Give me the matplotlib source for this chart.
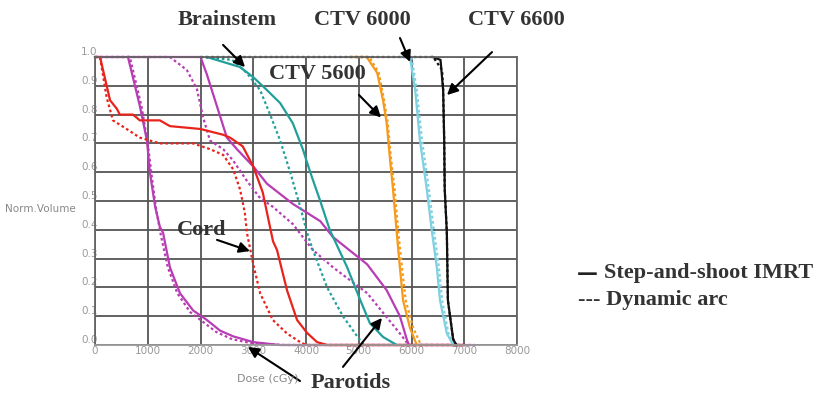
import matplotlib
matplotlib.use("Agg")
import matplotlib.pyplot as plt

# ---- data (dose in cGy, normalized volume) ----
cord_solid_dose = [0, 95, 285, 415, 470, 720, 850, 1230, 1420, 2000, 2430, 2560, 2800, 3000, 3180, 3260, 3375, 3450, 3640, 3830, 4020, 4210, 4400, 7000]
cord_solid_vol = [1.0, 1.0, 0.85, 0.82, 0.80, 0.80, 0.78, 0.78, 0.76, 0.75, 0.73, 0.72, 0.69, 0.62, 0.53, 0.46, 0.36, 0.33, 0.19, 0.087, 0.042, 0.01, 0.0, 0.0]
cord_dash_dose = [0, 95, 220, 340, 600, 850, 1230, 1860, 2180, 2430, 2620, 2750, 2840, 2880, 3000, 3130, 3370, 3640, 3890, 4000, 7000]
cord_dash_vol = [1.0, 1.0, 0.86, 0.78, 0.75, 0.72, 0.70, 0.70, 0.68, 0.66, 0.61, 0.54, 0.46, 0.39, 0.28, 0.18, 0.087, 0.04, 0.01, 0.0, 0.0]

par1_solid_dose = [625, 850, 985, 1040, 1140, 1230, 1290, 1420, 1610, 1860, 2120, 2370, 2620, 3000, 3500, 7000]
par1_solid_vol = [1.0, 0.83, 0.71, 0.60, 0.48, 0.41, 0.39, 0.27, 0.18, 0.12, 0.087, 0.05, 0.03, 0.01, 0.0, 0.0]
par1_dash_dose = [0, 660, 880, 1000, 1080, 1160, 1250, 1380, 1560, 1800, 2050, 2300, 2600, 3000, 3600, 7200]
par1_dash_vol = [1.0, 1.0, 0.83, 0.70, 0.58, 0.47, 0.38, 0.27, 0.18, 0.115, 0.08, 0.045, 0.02, 0.005, 0.0, 0.0]

par2_solid_dose = [0, 1370, 2000, 2120, 2310, 2500, 2690, 3000, 3260, 3750, 4270, 4510, 5160, 5530, 5780, 5910, 5950]
par2_solid_vol = [1.0, 1.0, 1.0, 0.94, 0.83, 0.72, 0.68, 0.62, 0.56, 0.49, 0.43, 0.375, 0.28, 0.19, 0.10, 0.02, 0.0]
par2_dash_dose = [0, 1420, 1740, 1930, 2050, 2180, 2430, 2620, 2880, 3130, 3370, 3750, 4130, 4510, 5160, 5780, 5950, 7200]
par2_dash_vol = [1.0, 1.0, 0.955, 0.89, 0.79, 0.71, 0.68, 0.64, 0.57, 0.51, 0.48, 0.42, 0.33, 0.27, 0.18, 0.04, 0.0, 0.0]

brain_solid_dose = [2120, 2750, 3000, 3260, 3510, 3750, 3940, 4080, 4270, 4450, 4780, 5020, 5210, 5460, 5720]
brain_solid_vol = [1.0, 0.965, 0.93, 0.885, 0.84, 0.77, 0.68, 0.60, 0.50, 0.40, 0.27, 0.16, 0.076, 0.028, 0.0]
brain_dash_dose = [2000, 2600, 2880, 3130, 3320, 3510, 3700, 3890, 4020, 4130, 4400, 4700, 4970, 5100]
brain_dash_vol = [1.0, 0.99, 0.944, 0.885, 0.80, 0.71, 0.60, 0.48, 0.39, 0.33, 0.20, 0.10, 0.03, 0.0]

ctv56_solid_dose = [4830, 5150, 5350, 5460, 5530, 5590, 5650, 5720, 5780, 5840, 5970, 6100]
ctv56_solid_vol = [1.0, 1.0, 0.945, 0.85, 0.77, 0.65, 0.54, 0.39, 0.27, 0.155, 0.06, 0.0]
ctv56_dash_dose = [4830, 5200, 5380, 5480, 5550, 5610, 5680, 5750, 5820, 5890, 6030, 6180]
ctv56_dash_vol = [1.0, 1.0, 0.945, 0.85, 0.77, 0.65, 0.54, 0.39, 0.27, 0.155, 0.06, 0.0]

ctv60_solid_dose = [5800, 5970, 6070, 6160, 6290, 6390, 6480, 6540, 6670, 6790]
ctv60_solid_vol = [1.0, 1.0, 0.885, 0.71, 0.54, 0.39, 0.27, 0.155, 0.04, 0.0]
ctv60_dash_dose = [5800, 6000, 6100, 6200, 6330, 6430, 6520, 6580, 6700, 6820]
ctv60_dash_vol = [1.0, 1.0, 0.885, 0.71, 0.54, 0.39, 0.27, 0.155, 0.04, 0.0]

ctv66_solid_dose = [6400, 6550, 6600, 6620, 6630, 6670, 6690, 6790, 6850]
ctv66_solid_vol = [1.0, 0.99, 0.885, 0.71, 0.54, 0.39, 0.155, 0.02, 0.0]
ctv66_dash_dose = [2000, 6410, 6580, 6600, 6620, 6630, 6670, 6690, 6790, 6850]
ctv66_dash_vol = [1.0, 1.0, 0.955, 0.885, 0.71, 0.54, 0.39, 0.155, 0.02, 0.0]

x_ticks = [0, 1000, 2000, 3000, 4000, 5000, 6000, 7000, 8000]
y_ticks = [0.0, 0.1, 0.2, 0.3, 0.4, 0.5, 0.6, 0.7, 0.8, 0.9, 1.0]

RED = "#e8231c"
MAG = "#b83cb4"
TEAL = "#21a09b"
ORANGE = "#f59a1c"
CYAN = "#7fd0e0"
BLACK = "#111111"

fig = plt.figure(figsize=(8.19, 3.96), dpi=100)
ax = fig.add_axes([95 / 819, 1 - 345 / 396, (517 - 95) / 819, (345 - 57) / 396])

ax.set_xlim(0, 8000)
ax.set_ylim(0, 1.0)
ax.set_xticks(x_ticks)
ax.set_yticks(y_ticks)
ax.set_xticklabels([str(t) for t in x_ticks])
ax.set_yticklabels([f"{t:.1f}" for t in y_ticks])
ax.grid(True, color="#555555", lw=1.3)
ax.set_axisbelow(True)
for s in ax.spines.values():
    s.set_color("#666666")
    s.set_linewidth(1.3)
ax.spines["bottom"].set_color("#999999")
ax.tick_params(length=0, labelsize=7.5, labelcolor="#999999")
ax.tick_params(axis="y", pad=-2)
ax.tick_params(axis="x", pad=1)
for lab in ax.get_yticklabels():
    lab.set_verticalalignment("bottom")

dash = (0, (1.2, 1.2))
lw = 1.6
curves = [
    (par1_dash_dose, par1_dash_vol, MAG, dash),
    (par2_dash_dose, par2_dash_vol, MAG, dash),
    (par1_solid_dose, par1_solid_vol, MAG, "-"),
    (par2_solid_dose, par2_solid_vol, MAG, "-"),
    (cord_dash_dose, cord_dash_vol, RED, dash),
    (cord_solid_dose, cord_solid_vol, RED, "-"),
    (brain_dash_dose, brain_dash_vol, TEAL, dash),
    (brain_solid_dose, brain_solid_vol, TEAL, "-"),
    (ctv56_solid_dose, ctv56_solid_vol, ORANGE, "-"),
    (ctv56_dash_dose, ctv56_dash_vol, ORANGE, dash),
    (ctv60_solid_dose, ctv60_solid_vol, CYAN, "-"),
    (ctv60_dash_dose, ctv60_dash_vol, CYAN, dash),
    (ctv66_solid_dose, ctv66_solid_vol, BLACK, "-"),
    (ctv66_dash_dose, ctv66_dash_vol, BLACK, dash),
]
for d, v, c, ls in curves:
    ax.plot(d, v, color=c, ls=ls, lw=lw, clip_on=False)

fig.text(40 / 819, 1 - 209 / 396, "Norm.Volume", fontsize=7.5, color="#888888", ha="center", va="center")
fig.text(268 / 819, 1 - 379 / 396, "Dose (cGy)", fontsize=8, color="#888888", ha="center", va="center")

tfont = dict(family="Liberation Serif", fontsize=16, fontweight="bold", color="#333333", ha="center", va="center")
aprops = dict(arrowstyle="-|>", color="black", lw=1.5, mutation_scale=16, shrinkA=0, shrinkB=0)

ax.text(2502, 1.13, "Brainstem", **tfont)
ax.text(5062, 1.13, "CTV 6000", **tfont)
ax.text(7981, 1.13, "CTV 6600", **tfont)
ax.text(4209, 0.94, "CTV 5600", **tfont)
ax.text(2030, 0.40, "Cord", **tfont)
ax.text(4840, -0.132, "Parotids", **tfont)

arrows = [
    ((2427, 1.042), (2844, 0.965)),
    ((5782, 1.066), (5972, 0.983)),
    ((7526, 1.017), (6673, 0.868)),
    ((5005, 0.868), (5422, 0.790)),
    ((2313, 0.365), (2938, 0.326)),
    ((3886, -0.125), (2900, -0.007)),
    ((4701, -0.076), (5440, 0.094)),
]
for start, end in arrows:
    ax.annotate("", xy=end, xytext=start, arrowprops=aprops, annotation_clip=False)

lfont = dict(family="Liberation Serif", fontsize=16, fontweight="bold", color="#333333", ha="left", va="center")
fig.text(577 / 819, 1 - 274 / 396, "\u2014", family="DejaVu Sans", fontsize=15, fontweight="bold",
         color="#222222", ha="left", va="center")
fig.text(604 / 819, 1 - 273 / 396, "Step-and-shoot IMRT", **lfont)
fig.text(578 / 819, 1 - 300 / 396, "--- Dynamic arc", **lfont)

fig.savefig("out.png", dpi=100)
